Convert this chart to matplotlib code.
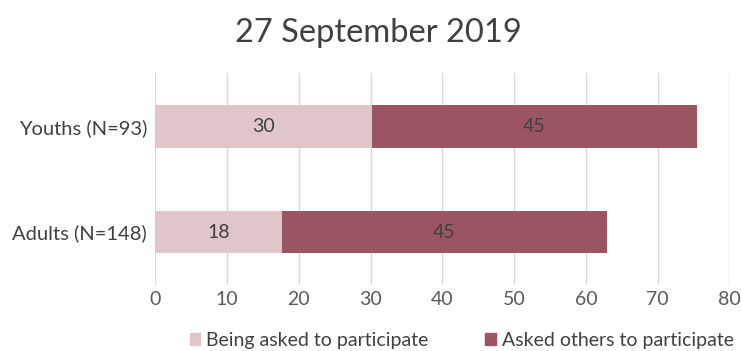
import matplotlib
matplotlib.use("Agg")
import matplotlib.pyplot as plt
from matplotlib.patches import Patch

categories = ["Adults (N=148)", "Youths (N=93)"]
being_asked = [17.6, 30.2]
asked_others = [45.3, 45.3]
series_names = ["Being asked to participate", "Asked others to participate"]
xticks = [0, 10, 20, 30, 40, 50, 60, 70, 80]
title = "27 September 2019"

light = "#E0C5C9"
dark = "#9B5562"
txt = "#595959"

plt.rcParams['font.family'] = ['Lato', 'DejaVu Sans']

fig = plt.figure(figsize=(7.41, 3.51), dpi=100)
ax = fig.add_axes([0.2096, 0.188, 0.7747, 0.6026])

ypos = [0.5, 1.5]
h = 0.4
b1 = ax.barh(ypos, being_asked, height=h, color=light, zorder=3)
b2 = ax.barh(ypos, asked_others, left=being_asked, height=h, color=dark, zorder=3)

for bars, vals, lefts in [(b1, being_asked, [0, 0]), (b2, asked_others, being_asked)]:
    for y, v, l in zip(ypos, vals, lefts):
        ax.text(l + v / 2, y, f"{round(v):d}", ha="center", va="center",
                fontsize=14, color="#404040", zorder=4)

ax.set_xlim(0, 80)
ax.set_ylim(0, 2)
ax.set_xticks(xticks)
ax.set_xticklabels([str(t) for t in xticks], fontsize=14, color=txt)
ax.set_yticks(ypos)
ax.set_yticklabels(categories, fontsize=14.5, color="#404040")
ax.tick_params(axis="both", length=0)
ax.tick_params(axis="x", pad=4)
ax.tick_params(axis="y", pad=6)
ax.grid(axis="x", color="#D9D9D9", linewidth=1, zorder=0)
for s in ax.spines.values():
    s.set_visible(False)

fig.text(0.51, 0.905, title, ha="center", va="center", fontsize=23.5, color="#404040")

handles = [Patch(color=light), Patch(color=dark)]
fig.legend(handles, series_names, loc="center", bbox_to_anchor=(0.623, 0.03),
           ncol=2, frameon=False, fontsize=14, handlelength=0.55, handleheight=0.6,
           handletextpad=0.3, columnspacing=2.9, labelcolor="#404040")

fig.savefig("out.png", dpi=100)
